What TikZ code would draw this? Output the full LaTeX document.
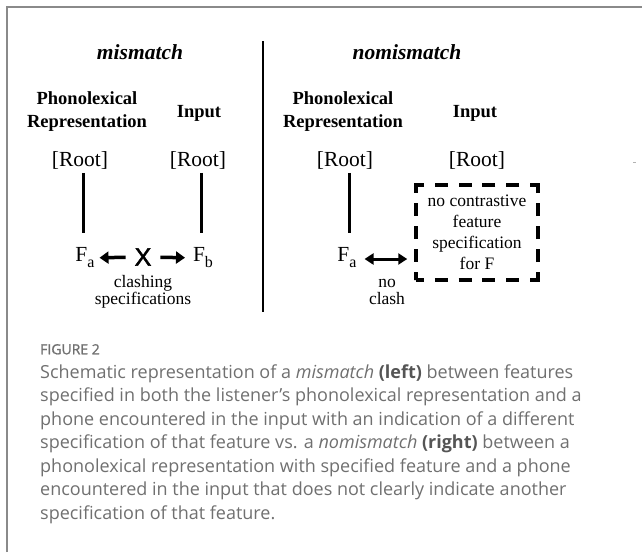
\documentclass[tikz,border=0pt]{standalone}
\usepackage{fontspec}
\setmainfont{Liberation Serif}
\newfontfamily\capfont{Open Sans}
\newfontfamily\figfont[FakeBold=1.2]{Open Sans}
\newfontfamily\xfont[FakeBold=1.8]{Liberation Sans}
\usetikzlibrary{arrows.meta}
\definecolor{capgray}{HTML}{707070}
\definecolor{capdark}{HTML}{555555}
\definecolor{framegray}{HTML}{8A8A8A}
\begin{document}
\begin{tikzpicture}[x=1pt,y=-1pt,
  txt/.style={inner sep=0pt, outer sep=0pt},
  title/.style={txt, font=\fontsize{21.5}{24}\selectfont\bfseries\itshape},
  head/.style={txt, align=center, font=\fontsize{18.5}{23}\selectfont\bfseries},
  rootlbl/.style={txt, font=\fontsize{21.5}{24}\selectfont},
  feat/.style={txt, font=\fontsize{21.5}{24}\selectfont},
  small/.style={txt, align=center, font=\fontsize{17.5}{17}\selectfont},
  stem/.style={line width=3pt, black},
  arr/.style={line width=3.5pt, -{Triangle[length=9pt,width=12pt]}},
  arrb/.style={line width=3pt, {Triangle[length=9pt,width=11pt]}-{Triangle[length=9pt,width=11pt]}},
  capline/.style={inner sep=0pt, anchor=mid west, text=capgray, font=\capfont\fontsize{18}{20}\selectfont},
  dbox/.style={draw, line width=3.5pt, inner sep=0pt, minimum width=122pt, minimum height=95pt,
    align=center, font=\fontsize{17.5}{21}\selectfont,
    dash pattern=on 8pt off 10.8pt on 13pt off 10.8pt on 13pt off 10.8pt on 13pt off 10.8pt on 13pt off 10.8pt
      on 16pt off 10pt on 13pt off 10pt on 13pt off 10pt on 13pt off 10pt
      on 16pt off 10.8pt on 13pt off 10.8pt on 13pt off 10.8pt on 13pt off 10.8pt on 13pt off 10.8pt
      on 16pt off 10pt on 13pt off 10pt on 13pt off 10pt on 13pt off 10pt on 8pt off 0pt}
]
\useasboundingbox (0,0) rectangle (642,552);
\fill[white] (0,0) rectangle (642,552);
% frame
\draw[framegray, line width=1.5pt] (7,552) -- (7,7) -- (642,7);
% divider
\draw[line width=2pt] (263,41) -- (263,312);
% titles
\node[title] (tl) at (140,52) {mismatch};
\node[title] (tr) at (407,52) {nomismatch};
% headers
\node[head] (hl) at (87,111.5) {Phonolexical\\Representation};
\node[head] (il) at (199,113) {Input};
\node[head] (hr) at (343,111.5) {Phonolexical\\Representation};
\node[head] (ir) at (475,113) {Input};
% roots
\node[rootlbl] (rL) at (80,160) {[Root]};
\node[rootlbl] (rI) at (198,160) {[Root]};
\node[rootlbl] (rR) at (345,160) {[Root]};
\node[rootlbl] (rRI) at (477,160) {[Root]};
% features
\node[feat] (fL) at (85,258) {F\raisebox{-6pt}{\fontsize{16}{16}\selectfont a}};
\node[txt, font=\xfont\fontsize{25}{27}\selectfont] (xx) at (143,257) {X};
\node[feat] (fB) at (203,258) {F\raisebox{-6pt}{\fontsize{16}{16}\selectfont b}};
\node[feat] (fR) at (347,258) {F\raisebox{-6pt}{\fontsize{16}{16}\selectfont a}};
% stems
\draw[stem, shorten <=4pt, shorten >=15pt] ([xshift=3pt]rL.south) -- ([xshift=3pt]rL.south |- fL.north);
\draw[stem, shorten <=4pt, shorten >=15pt] ([xshift=3pt]rI.south) -- ([xshift=3pt]rI.south |- fB.north);
\draw[stem, shorten <=4pt, shorten >=15pt] ([xshift=4pt]rR.south) -- ([xshift=4pt]rR.south |- fR.north);
% arrows
\draw[arr, shorten <=9pt, shorten >=5pt] (xx) -- (fL);
\draw[arr, shorten <=9pt, shorten >=8pt] (xx) -- (fB);
% labels
\node[small] (cl) at (143,291.5) {clashing\\specifications};
\node[small] (nc) at (387,291.5) {no\\clash};
% dashed box
\node[dbox] (box) at (477,232.5) {no contrastive\\feature\\specification\\for F};
\draw[arrb, shorten <=8pt, shorten >=7pt] ([yshift=-1pt]fR.east) -- ([yshift=-1pt]fR.east -| box.west);
% stray mark
\draw[gray!60, line width=0.8pt] (633,162) -- (636,162);
% caption
\node[capline, font=\figfont\fontsize{14}{16}\selectfont, text=capgray] (fig) at (40,352) {FIGURE 2};
\node[capline] (c1) at (40,376) {Schematic representation of a \textit{mismatch} \textcolor{capdark}{\bfseries (left)} between features};
\node[capline] (c2) at (40,399.5) {specified in both the listener’s phonolexical representation and a};
\node[capline] (c3) at (40,423) {phone encountered in the input with an indication of a different};
\node[capline] (c4) at (40,446.5) {specification of that feature vs. a \textit{nomismatch} \textcolor{capdark}{\bfseries (right)} between a};
\node[capline] (c5) at (40,470) {phonolexical representation with specified feature and a phone};
\node[capline] (c6) at (40,493.5) {encountered in the input that does not clearly indicate another};
\node[capline] (c7) at (40,517) {specification of that feature.};
\end{tikzpicture}
\end{document}
